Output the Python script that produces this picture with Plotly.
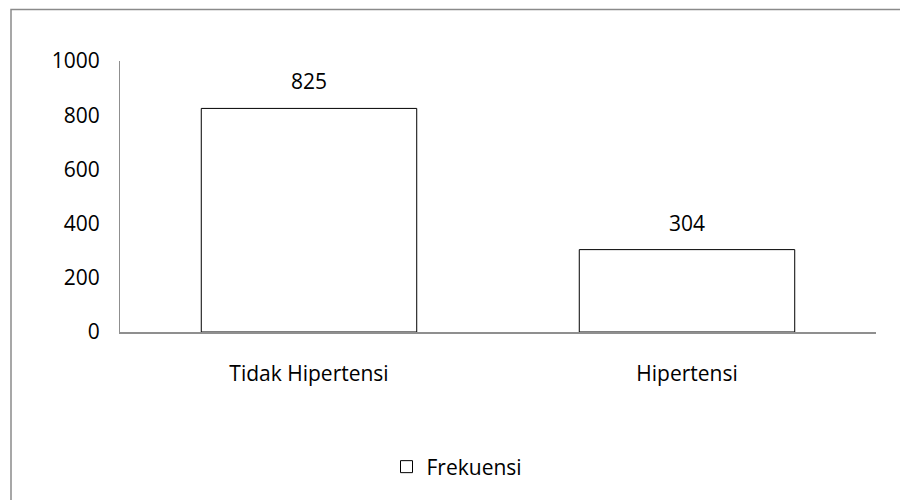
import plotly.graph_objects as go

categories = ["Tidak Hipertensi", "Hipertensi"]
frekuensi = [825, 304]
series_name = "Frekuensi"
y_ticks = [0, 200, 400, 600, 800, 1000]

# page body has 8px margin -> figure origin at (8, 8)
OFF = 8
W, H = 900, 492
L, T = 120 - OFF, 61 - OFF
R = W - (876 - OFF)
B = H - (332 - OFF)
pw, ph = W - L - R, H - T - B

def px_x(page_x):
    return (page_x - OFF - L) / pw

def px_y(page_y):
    return (T + ph - (page_y - OFF)) / ph

FONT = "Open Sans"

fig = go.Figure()
fig.add_trace(go.Bar(
    x=categories, y=frekuensi, name=series_name,
    marker=dict(color="white", line=dict(color="black", width=1)),
    width=0.57, showlegend=True,
))

for c, v in zip(categories, frekuensi):
    fig.add_annotation(x=c, y=v, text=str(v), showarrow=False,
                       yanchor="bottom", yshift=11,
                       font=dict(size=21, color="black", family=FONT))

fig.add_shape(type="rect", xref="paper", yref="paper",
              x0=px_x(11), x1=px_x(960),
              y0=px_y(560), y1=px_y(9.5),
              line=dict(color="#8a8a8a", width=1.5), fillcolor="rgba(0,0,0,0)", layer="below")

fig.update_layout(
    width=W, height=H,
    margin=dict(l=L, r=R, t=T, b=B),
    paper_bgcolor="white", plot_bgcolor="white",
    font=dict(family=FONT, size=21, color="black"),
    showlegend=True,
    legend=dict(orientation="h", x=px_x(457), xanchor="center",
                y=px_y(467), yanchor="middle",
                font=dict(size=21), itemwidth=30),
)
fig.update_xaxes(showline=True, linecolor="#8f8f8f", linewidth=1.5,
                 showgrid=False, ticks="outside", ticklen=22,
                 tickcolor="rgba(0,0,0,0)", tickfont=dict(size=21))
fig.update_yaxes(range=[0, 1000], tickvals=y_ticks, showline=True,
                 linecolor="#8f8f8f", linewidth=1, showgrid=False,
                 zeroline=False, ticks="outside", ticklen=15,
                 tickcolor="rgba(0,0,0,0)", tickfont=dict(size=21))

fig.write_html("out.html")
